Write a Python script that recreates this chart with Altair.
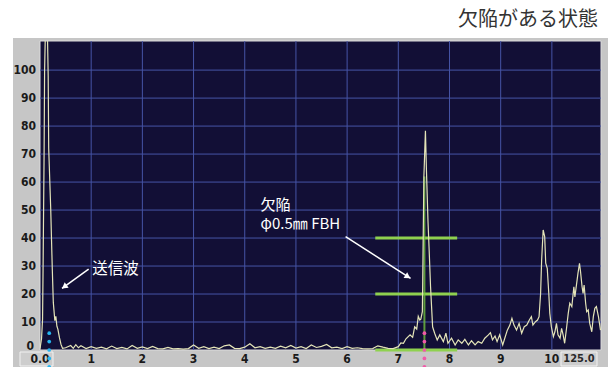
import altair as alt
import pandas as pd

# ---------------- data ----------------
trace_x = [0.00, 0.03, 0.05, 0.06, 0.08, 0.09, 0.11, 0.14, 0.16, 0.17, 0.21, 0.24, 0.26, 0.29, 0.31,
           0.33, 0.35, 0.38, 0.41, 0.44,
           0.50, 0.60, 0.65, 0.70, 0.75, 0.80, 0.90, 1.00, 1.10, 1.20, 1.30, 1.40, 1.50, 1.60, 1.70,
           1.80, 1.90, 2.00, 2.10, 2.20, 2.30, 2.40, 2.50, 2.60, 2.70, 2.80, 2.90, 3.00, 3.10, 3.20,
           3.30, 3.40, 3.50, 3.60, 3.70, 3.80, 3.90, 4.00, 4.10, 4.20, 4.30, 4.40, 4.50, 4.60, 4.70,
           4.80, 4.90, 5.00, 5.10, 5.20, 5.30, 5.40, 5.50, 5.60, 5.70, 5.80, 5.90, 6.00, 6.10, 6.20,
           6.30, 6.40, 6.50, 6.60, 6.70, 6.80, 6.90, 7.00, 7.05,
           7.10, 7.15, 7.23, 7.28, 7.32, 7.36, 7.39, 7.42, 7.44, 7.47, 7.50, 7.53, 7.55, 7.58, 7.60,
           7.63, 7.67, 7.71, 7.76, 7.81, 7.88, 7.93, 7.97, 8.04, 8.11, 8.17, 8.24, 8.30, 8.37, 8.43,
           8.50, 8.56, 8.63, 8.69, 8.76, 8.80, 8.84, 8.89, 8.93, 8.98, 9.04, 9.08, 9.13, 9.18, 9.22,
           9.26, 9.31, 9.36, 9.41, 9.46, 9.51, 9.56, 9.60, 9.63, 9.68, 9.72, 9.75, 9.78, 9.80, 9.83,
           9.86, 9.88, 9.91, 9.94, 9.96, 9.99, 10.03, 10.06, 10.09, 10.12, 10.16, 10.19, 10.22, 10.25,
           10.29, 10.32, 10.35, 10.39, 10.43, 10.45, 10.48, 10.51, 10.54, 10.56, 10.59, 10.61, 10.63,
           10.66, 10.68, 10.71, 10.74, 10.78, 10.81, 10.84, 10.87, 10.91, 10.95]
trace_y = [0.5, 4, 11, 29, 70, 100, 118, 118, 98, 72, 50, 29, 17, 10.5, 12,
           8.5, 7.4, 4.4, 2, 0.6,
           0.8, 1.6, 0.6, 1.9, 0.8, 1.5, 0.5, 1.2, 0.6, 1.0, 0.4, 1.4, 0.5, 0.9, 0.4,
           1.6, 0.6, 1.1, 0.5, 1.3, 0.5, 0.4, 0.9, 0.4, 0.5, 0.3, 0.5, 1.8, 0.6, 1.2,
           0.5, 1.0, 0.5, 1.5, 1.8, 0.6, 0.5, 1.0, 2.2, 0.8, 1.2, 0.6, 1.0, 0.6, 1.4,
           0.8, 1.6, 0.7, 1.2, 0.5, 1.8, 0.9, 1.3, 2.0, 0.8, 1.0, 0.5, 1.2, 0.6, 0.8,
           0.5, 0.4, 0.5, 1.5, 1.0, 0.6, 0.5, 1.2, 2.5,
           2.4, 4.0, 5.4, 4.5, 8.3, 7.5, 12, 10.7, 11, 13.7, 62, 78.3, 64, 46, 37,
           22.6, 8.3, 6, 3.6, 5.4, 3, 6, 2.4, 4.2, 1.8, 3.6, 2.4, 3.8, 1.8, 3.3,
           1.8, 3, 2.4, 4.2, 5.4, 6.2, 3.6, 5, 3, 5.4, 1.8, 4.2, 7.1, 8.9, 11.3,
           8.9, 7.1, 9.5, 6, 8.3, 8.9, 10.7, 11.9, 8.9, 10.1, 10.7, 11.9, 20.2, 32, 42.9,
           40.5, 31, 29.2, 20.2, 13.1, 8.3, 4.8, 6.5, 9.5, 5.4, 4.2, 7.7, 5.4, 2.4,
           8.3, 13.1, 16.7, 15.5, 22.6, 19, 23.2, 27.4, 31, 28, 22.6, 20.2, 23.2,
           16.7, 13.7, 14.3, 9.5, 6.5, 11.9, 14.9, 15.5, 11.9, 7.1]

x_ticks = list(range(0, 11))
x_tick_labels = ["0.0", "1", "2", "3", "4", "5", "6", "7", "8", "9", "10"]
y_ticks = list(range(10, 101, 10))
y_zero_label = "0"
x_grid = list(range(1, 11))
y_grid = list(range(10, 101, 10))

gate_levels = [40, 20, 0]
gate_start, gate_end = 6.55, 8.15
cursor_x, cursor_top = 7.51, 62

dot_levels = [6, 3, 0, -3, -6]
blue_dot_x = 0.18
pink_dot_x = 7.51

arrow_x1 = [0.95, 5.97]
arrow_y1 = [28.9, 40.5]
arrow_x2 = [0.43, 7.24]
arrow_y2 = [22.0, 25.6]
head_x = [0.49, 7.17]
head_y = [22.8, 26.4]
head_angle = [234, 122.6]

label_text = ["送信波", "欠陥", "φ0.5㎜ FBH"]
label_x = [1.02, 4.31, 4.31]
label_y = [28.9, 51.8, 45.0]
label_size = [15.5, 15, 15]

title_text = "欠陥がある状態"
range_text = "125.0"

# ---------------- layout ----------------
W, H = 561, 309
XMAX, YMAX = 10.96, 110.4
xs = alt.Scale(domain=[0, XMAX], nice=False, zero=False)
ys = alt.Scale(domain=[0, YMAX], nice=False, zero=False)
JP = "Noto Sans CJK JP"
NUM = "DejaVu Sans Condensed, DejaVu Sans, sans-serif"

one = pd.DataFrame({"k": [0]})
trace = pd.DataFrame({"x": trace_x, "y": trace_y})
gx = pd.DataFrame({"x": x_grid})
gy = pd.DataFrame({"y": y_grid})
xl = pd.DataFrame({"x": x_ticks, "t": x_tick_labels})
yl = pd.DataFrame({"y": y_ticks, "t": [str(v) for v in y_ticks]})
y0 = pd.DataFrame({"y": [0], "t": [y_zero_label]})
gates = pd.DataFrame({"y": gate_levels, "x": gate_start, "x2": gate_end})
cursor = pd.DataFrame({"x": [cursor_x], "y": [0], "y2": [cursor_top]})
blue = pd.DataFrame({"y": dot_levels, "x": blue_dot_x})
pink = pd.DataFrame({"y": dot_levels, "x": pink_dot_x})
arrows = pd.DataFrame({"x": arrow_x1, "y": arrow_y1, "x2": arrow_x2, "y2": arrow_y2})
heads = pd.DataFrame({"x": head_x, "y": head_y, "a": head_angle})
labels = pd.DataFrame({"t": label_text, "x": label_x, "y": label_y, "s": label_size})


def X(f="x"):
    return alt.X(f"{f}:Q", scale=xs, axis=None)


def Y(f="y"):
    return alt.Y(f"{f}:Q", scale=ys, axis=None)


panel = alt.Chart(one).mark_rect(color="#c6c6c6").encode(
    x=alt.value(-27), x2=alt.value(568), y=alt.value(-3), y2=alt.value(326))
box0 = alt.Chart(one).mark_rect(fill="#cdcdcd", stroke="#f2f2f2", strokeWidth=1).encode(
    x=alt.value(-20), x2=alt.value(13), y=alt.value(311), y2=alt.value(325))
box125 = alt.Chart(one).mark_rect(fill="#cdcdcd", stroke="#f2f2f2", strokeWidth=1).encode(
    x=alt.value(521), x2=alt.value(557), y=alt.value(311), y2=alt.value(325))
text125 = alt.Chart(one).mark_text(text=range_text, font=NUM, fontSize=11, fontWeight="bold",
                                   color="#2a2a2a", baseline="middle").encode(
    x=alt.value(539), y=alt.value(318))
plot_bg = alt.Chart(one).mark_rect(fill="#120f36", stroke="#dcdcdc", strokeWidth=1).encode(
    x=alt.value(0), x2=alt.value(W), y=alt.value(0), y2=alt.value(H))
grid_x = alt.Chart(gx).mark_rule(color="#4654a6", strokeWidth=1).encode(
    x=X(), y=alt.value(0), y2=alt.value(H))
grid_y = alt.Chart(gy).mark_rule(color="#4654a6", strokeWidth=1).encode(
    y=Y(), x=alt.value(0), x2=alt.value(W))
xlab = alt.Chart(xl).mark_text(font=NUM, fontSize=12, fontWeight="bold", color="#1a1a1a",
                               baseline="middle", align="center").encode(
    x=X(), y=alt.value(H + 9), text="t:N")
ylab = alt.Chart(yl).mark_text(font=NUM, fontSize=12, fontWeight="bold", color="#1a1a1a",
                               baseline="middle", align="right").encode(
    y=Y(), x=alt.value(-4), text="t:N")
ylab0 = alt.Chart(y0).mark_text(font=NUM, fontSize=12, fontWeight="bold", color="#1a1a1a",
                                baseline="middle", align="right", dy=-4).encode(
    y=Y(), x=alt.value(-6), text="t:N")
gate = alt.Chart(gates).mark_rule(color="#8fd14f", strokeWidth=3).encode(
    x=X(), x2="x2:Q", y=Y())
cur = alt.Chart(cursor).mark_rule(color="#6fbf3f", strokeWidth=2, opacity=0.8).encode(
    x=X(), y=Y(), y2="y2:Q")
line = alt.Chart(trace).mark_line(color="#e4e4b8", strokeWidth=1.2, clip=True).encode(
    x=X(), y=Y())
bdots = alt.Chart(blue).mark_circle(size=14, color="#26b5f0", opacity=1).encode(x=X(), y=Y())
pdots = alt.Chart(pink).mark_circle(size=14, color="#f05aa8", opacity=1).encode(x=X(), y=Y())
arr = alt.Chart(arrows).mark_rule(color="white", strokeWidth=1.5).encode(
    x=X(), y=Y(), x2="x2:Q", y2="y2:Q")
head = alt.Chart(heads).mark_point(shape="triangle", filled=True, size=45, color="white",
                                   opacity=1).encode(
    x=X(), y=Y(), angle=alt.Angle("a:Q", scale=None))
txt = alt.Chart(labels).mark_text(align="left", baseline="middle", color="white", font=JP).encode(
    x=X(), y=Y(), text="t:N", size=alt.Size("s:Q", scale=None, legend=None))
title = alt.Chart(one).mark_text(text=title_text, font=JP, fontSize=20, color="#333333",
                                 align="right", baseline="middle").encode(
    x=alt.value(558), y=alt.value(-21))

chart = alt.layer(
    panel, box0, box125, text125, plot_bg, grid_x, grid_y, xlab, ylab, ylab0, gate, cur, line,
    bdots, pdots, arr, head, txt, title
).properties(
    width=W, height=H, autosize="none",
    padding={"left": 40, "top": 41, "right": 7, "bottom": 17},
    background="white",
).configure_view(stroke=None)

chart.save("out.html", embed_options={"renderer": "svg", "actions": False})
